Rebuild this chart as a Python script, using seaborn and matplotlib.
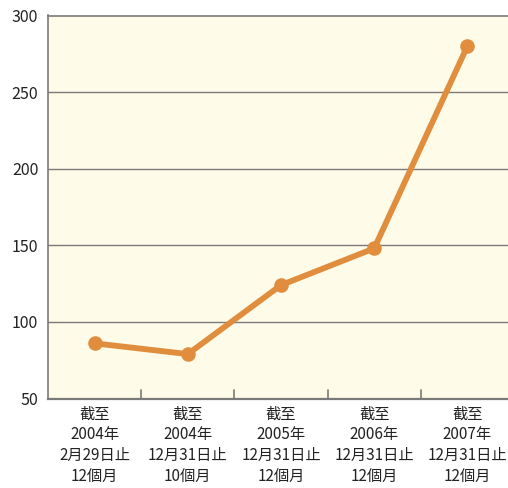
import matplotlib
matplotlib.use("Agg")
import matplotlib.pyplot as plt
import seaborn as sns
import pandas as pd

categories = [
    "截至\n2004年\n2月29日止\n12個月",
    "截至\n2004年\n12月31日止\n10個月",
    "截至\n2005年\n12月31日止\n12個月",
    "截至\n2006年\n12月31日止\n12個月",
    "截至\n2007年\n12月31日止\n12個月",
]
values = [86, 79, 124, 148, 280]
yticks = [50, 100, 150, 200, 250, 300]

sns.set_style("white")
plt.rcParams['font.family'] = ['Noto Sans CJK TC', 'DejaVu Sans']

df = pd.DataFrame({"x": list(range(len(categories))), "v": values})

fig = plt.figure(figsize=(5.08, 4.88), dpi=100)
ax = fig.add_axes([48/508, 1 - 398.5/488, 466/508, (398.5 - 15.5)/488])
ax.set_facecolor("#FEFBE8")

for y in yticks[1:-1]:
    ax.axhline(y, color="#7a7a7a", lw=1.0, zorder=1)

sns.lineplot(data=df, x="x", y="v", ax=ax, color="#E08E3E", lw=4.2,
             marker="o", markersize=10.5, markeredgewidth=0, zorder=3)

ax.set_xlim(-0.5, len(categories) - 0.5)
ax.set_ylim(50, 300)
ax.set_yticks(yticks)
ax.set_yticklabels([str(t) for t in yticks], fontsize=11.5, color="#222222")
ax.set_xticks(range(len(categories)))
ax.set_xticklabels(categories, fontsize=11, color="#222222", linespacing=1.3)
ax.tick_params(axis="x", length=0, pad=5)
ax.tick_params(axis="y", length=0, pad=7)
# boundary ticks between categories
for b in [0.5, 1.5, 2.5, 3.5]:
    ax.plot([b, b], [50, 55.5], color="#7a7a7a", lw=1.2, zorder=2, clip_on=False)
ax.set_xlabel("")
ax.set_ylabel("")
for s in ["left", "bottom", "top"]:
    ax.spines[s].set_visible(True)
    ax.spines[s].set_color("#7a7a7a")
    ax.spines[s].set_linewidth(1.2)
ax.spines["right"].set_visible(False)
ax.spines["bottom"].set_linewidth(1.6)

fig.savefig("out.png", dpi=100)
